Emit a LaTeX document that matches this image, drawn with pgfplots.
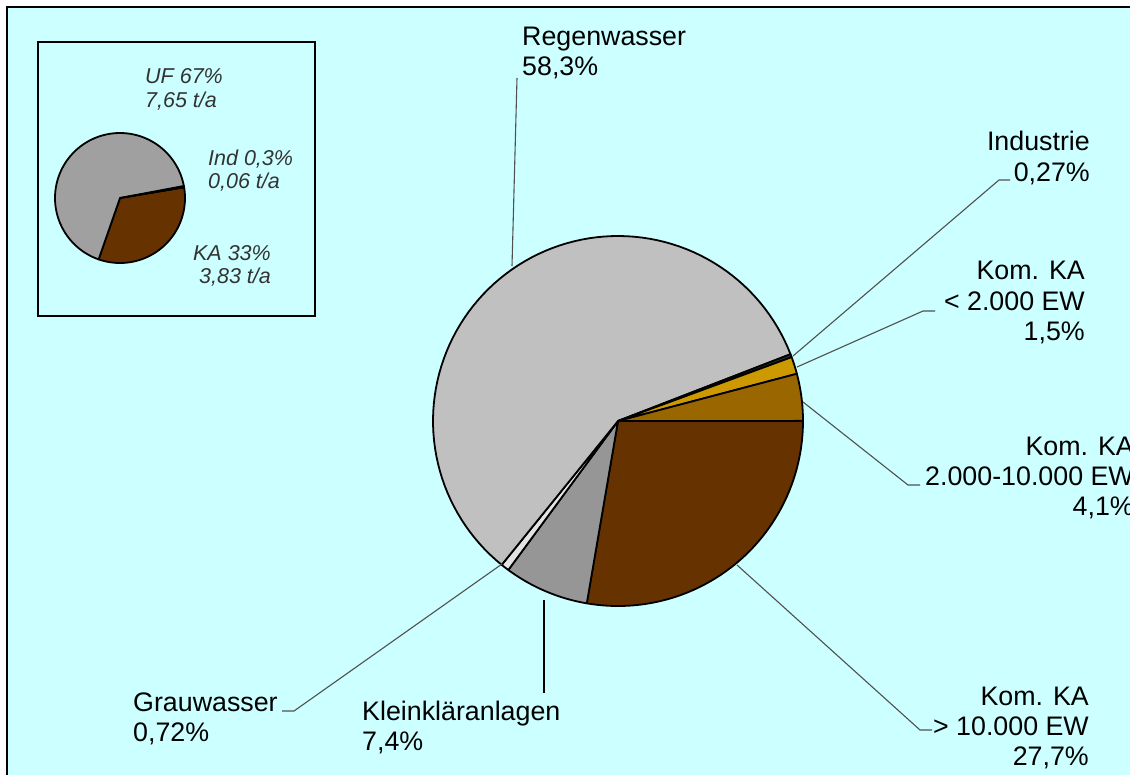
\documentclass[border=0pt]{standalone}
\usepackage{fontspec}
\setmainfont{Liberation Sans}
\usepackage{pgfplots}
\pgfplotsset{compat=1.18}

\definecolor{bg}{HTML}{CCFFFF}
\definecolor{regen}{HTML}{C0C0C0}
\definecolor{klein}{HTML}{969696}
\definecolor{gross}{HTML}{663300}
\definecolor{mittel}{HTML}{996600}
\definecolor{klka}{HTML}{CC9900}
\definecolor{indu}{HTML}{333333}
\definecolor{grau}{HTML}{E4E4E4}
\definecolor{uf}{HTML}{A0A0A0}
\definecolor{leader}{HTML}{505050}
\definecolor{insettext}{HTML}{333333}

% #1 cx, #2 cy, #3 r, #4 percent, #5 colour ; running start angle in \ang
\newcommand\pieslice[5]{%
  \pgfmathsetmacro\pe{\ang-#4*3.6}%
  \edef\tmp{\noexpand\addplot[draw=black, line width=1.8pt, fill=#5, line join=round,
     variable=\noexpand\t, domain=\pe:\ang, samples=90]
     ({#1+#3*cos(\noexpand\t)},{#2-#3*sin(\noexpand\t)}) -- (axis cs:#1,#2) -- cycle;}%
  \tmp
  \edef\ang{\pe}%
}

\begin{document}
\begin{tikzpicture}
\begin{axis}[
  at={(0,0)}, anchor=south west,
  width=1130pt, height=774pt, scale only axis,
  xmin=0, xmax=1130, ymin=0, ymax=774, y dir=reverse,
  hide axis, clip=false,
]
% background
\fill[white] (axis cs:0,0) rectangle (axis cs:1130,774);
\fill[bg] (axis cs:7,7) rectangle (axis cs:1140,790);
\draw[black, line width=1.5pt] (axis cs:7,790) -- (axis cs:7,7) -- (axis cs:1140,7);

% inset box
\draw[black, line width=1.4pt, fill=bg] (axis cs:38,42) rectangle (axis cs:315,316);

% main pie (clockwise from 0 deg)
\def\ang{0}
\pieslice{618}{421}{185}{27.7}{gross}
\pieslice{618}{421}{185}{7.4}{klein}
\pieslice{618}{421}{185}{0.72}{grau}
\pieslice{618}{421}{185}{58.3}{regen}
\pieslice{618}{421}{185}{0.27}{indu}
\pieslice{618}{421}{185}{1.5}{klka}
\pieslice{618}{421}{185}{4.1}{mittel}

% inset pie
\def\ang{9.6}
\pieslice{120}{198}{65}{33}{gross}
\pieslice{120}{198}{65}{67}{uf}
\def\ang{10.68}
\pieslice{120}{198}{65}{0.3}{indu}

% leader lines
\begin{scope}[leader, line width=1.1pt]
\draw (axis cs:517,78) -- (axis cs:512,266);
\draw (axis cs:793,356) -- (axis cs:999,180) -- (axis cs:1010,180);
\draw (axis cs:797,367) -- (axis cs:923,311) -- (axis cs:935,311);
\draw (axis cs:803,402) -- (axis cs:908,485) -- (axis cs:920,485);
\draw (axis cs:737,565) -- (axis cs:920,730) -- (axis cs:932,730);
\draw[black] (axis cs:544,600) -- (axis cs:544,693);
\draw (axis cs:502,564) -- (axis cs:294,711) -- (axis cs:282,711);
\end{scope}

% main labels
\begin{scope}[every node/.style={inner sep=0pt, text=black, font=\fontsize{26.8}{30}\selectfont}]
\node[anchor=base west] at (axis cs:522,45) {Regenwasser};
\node[anchor=base west] at (axis cs:522,75) {58,3\%};
\node[anchor=base east] at (axis cs:1090,150) {Industrie};
\node[anchor=base east] at (axis cs:1090,181) {0,27\%};
\node[anchor=base east] at (axis cs:1085,279) {Kom. KA};
\node[anchor=base east] at (axis cs:1085,310) {< 2.000 EW};
\node[anchor=base east] at (axis cs:1085,340) {1,5\%};
\node[anchor=base east] at (axis cs:1134,455) {Kom. KA};
\node[anchor=base east] at (axis cs:1134,485) {2.000-10.000 EW};
\node[anchor=base east] at (axis cs:1134,515) {4,1\%};
\node[anchor=base east] at (axis cs:1089,705) {Kom. KA};
\node[anchor=base east] at (axis cs:1089,735) {> 10.000 EW};
\node[anchor=base east] at (axis cs:1089,765) {27,7\%};
\node[anchor=base west] at (axis cs:133,711) {Grauwasser};
\node[anchor=base west] at (axis cs:133,741) {0,72\%};
\node[anchor=base west] at (axis cs:362,720) {Kleinkläranlagen};
\node[anchor=base west] at (axis cs:362,750) {7,4\%};
\end{scope}

% inset labels
\begin{scope}[every node/.style={inner sep=0pt, text=insettext, font=\fontsize{21.5}{24}\selectfont\itshape}]
\node[anchor=base west] at (axis cs:145,83) {UF 67\%};
\node[anchor=base west] at (axis cs:145,107) {7,65 t/a};
\node[anchor=base west] at (axis cs:208,165) {Ind 0,3\%};
\node[anchor=base west] at (axis cs:208,188) {0,06 t/a};
\node[anchor=base] at (axis cs:232,260) {KA 33\%};
\node[anchor=base] at (axis cs:235,283) {3,83 t/a};
\end{scope}
\end{axis}
\pgfresetboundingbox
\path (0,0) rectangle (1130pt,774pt);
\end{tikzpicture}
\end{document}
